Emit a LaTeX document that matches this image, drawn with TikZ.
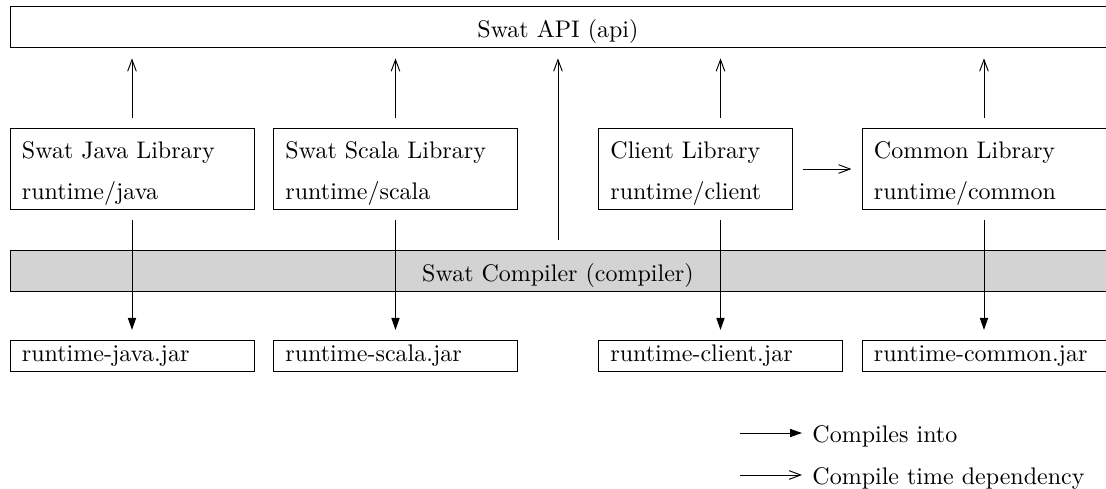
\documentclass[tikz,border=0pt]{standalone}
\usetikzlibrary{arrows.meta}
\definecolor{compilerfill}{RGB}{211,211,211}

% Two-line library label: name over source directory, left aligned,
% baseline of the box at the last line.
\newcommand{\libtext}[3]{\makebox[#1][l]{\begin{tabular}[b]{@{}l@{}}#2\\[5pt]#3\end{tabular}}}
% One-line, left-aligned jar label.
\newcommand{\jartext}[2]{\makebox[#1][l]{#2}}

\begin{document}
\begin{tikzpicture}[x=0.41667pt, y=-0.41667pt,
  box/.style={draw=black, line width=0.4pt, anchor=south west,
              inner xsep=5pt, inner ysep=4.17pt, text depth=0pt},
  libbox/.style={box, text height=25.42pt},
  jarbox/.style={box, text height=4.58pt},
  widebox/.style={box, minimum width=456.67pt, text height=8.75pt},
  compiles/.style={-{Triangle[length=5pt,width=3.4pt]}, line width=0.4pt},
  dependson/.style={-{Straight Barb[length=4.8pt,width=3.6pt]}, line width=0.4pt},
  gap/.style={shorten <=4.2pt, shorten >=4.2pt},
  legendtext/.style={anchor=base west, inner xsep=4.17pt, inner ysep=0pt}
]
\useasboundingbox (0,0) rectangle (1106,489);

% API layer
\node[widebox] (api) at (9.5,48.3) {Swat API (api)};

% Runtime libraries
\node[libbox] (javalib)   at (9.5,210)   {\libtext{91.67pt}{Swat Java Library}{runtime/java}};
\node[libbox] (scalalib)  at (273,210)   {\libtext{91.67pt}{Swat Scala Library}{runtime/scala}};
\node[libbox] (clientlib) at (598,210)   {\libtext{70.7pt}{Client Library}{runtime/client}};
\node[libbox] (commonlib) at (861.5,210) {\libtext{91.67pt}{Common Library}{runtime/common}};

% Compiler
\node[widebox, fill=compilerfill] (compiler) at (9.5,292) {Swat Compiler (compiler)};

% Produced jars
\node[jarbox] (javajar)   at (9.5,372)   {\jartext{91.67pt}{runtime-java.jar}};
\node[jarbox] (scalajar)  at (273,372)   {\jartext{91.67pt}{runtime-scala.jar}};
\node[jarbox] (clientjar) at (598,372)   {\jartext{91.67pt}{runtime-client.jar}};
\node[jarbox] (commonjar) at (861.5,372) {\jartext{91.67pt}{runtime-common.jar}};

% Compile time dependencies
\draw[dependson, gap] (javalib.north) -- (javalib.north |- api.south);
\draw[dependson, gap] (scalalib.north) -- (scalalib.north |- api.south);
\draw[dependson, gap] (clientjar.north |- clientlib.north) -- (clientjar.north |- api.south);
\draw[dependson, gap] (commonlib.north) -- (commonlib.north |- api.south);
\draw[dependson, gap] (compiler.north) -- (api.south);
\draw[dependson, gap] (clientlib.east) -- (commonlib.west |- clientlib.east);

% Compilation outputs
\draw[compiles, gap] (javalib.south) -- (javajar.north);
\draw[compiles, gap] (scalalib.south) -- (scalajar.north);
\draw[compiles, gap] (clientjar.north |- clientlib.south) -- (clientjar.north);
\draw[compiles, gap] (commonlib.south) -- (commonjar.north);

% Legend
\coordinate (keycomp) at (740,433);
\coordinate (keydep)  at (740,475);
\node[legendtext] (legcomp) at (802,442) {Compiles into};
\node[legendtext] (legdep)  at (802,485) {Compile time dependency};
\draw[compiles]  (keycomp) -- (keycomp -| legcomp.west);
\draw[dependson] (keydep) -- (keydep -| legdep.west);
\end{tikzpicture}
\end{document}
